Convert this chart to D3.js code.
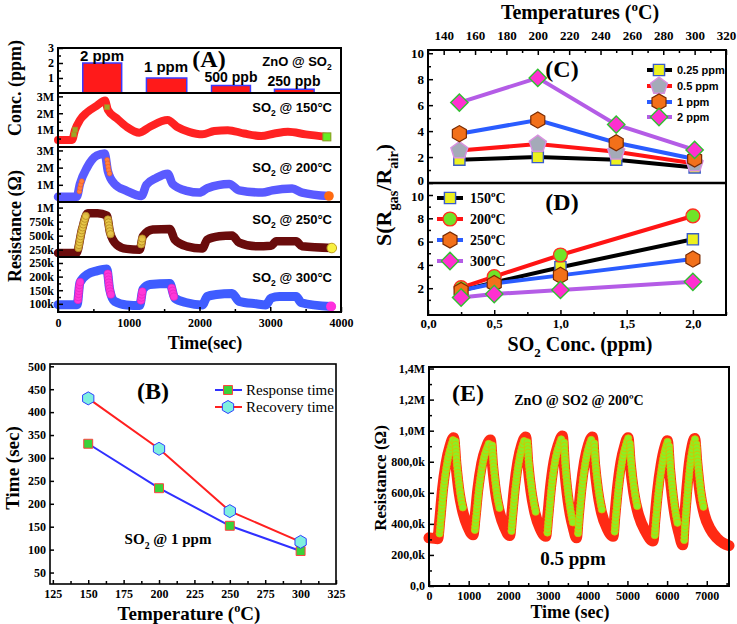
<!DOCTYPE html>
<html><head><meta charset="utf-8">
<script src="https://cdn.jsdelivr.net/npm/d3@7"></script>
<style>body{margin:0;background:#fff}svg{display:block}</style>
</head><body>
<svg id="c" width="737" height="624"></svg>
<script>
// ===================== DATA =====================
// Panel A : concentration pulses
const concLabels = ["2 ppm", "1 ppm", "500 ppb", "250 ppb"];
const concStart = [350, 1250, 2170, 3060];
const concEnd = [900, 1820, 2720, 3620];
const concValue = [2, 1, 0.5, 0.25];
// Panel A : resistance transients  [time (s), value]
const r150 = [[0,0.42],[200,0.42],[240,1.0],[310,1.6],[410,2.05],[550,2.45],[665,2.75],[705,2.2],[830,1.7],[970,1.2],[1150,0.85],[1300,1.2],[1550,1.6],[1680,1.2],[1850,0.9],[2040,0.75],[2210,0.95],[2400,1.0],[2630,0.8],[2870,0.65],[3060,0.8],[3250,0.9],[3500,0.75],[3800,0.6]]; // MOhm
const r200 = [[0,0.3],[265,0.3],[310,1.05],[410,2.0],[550,2.7],[660,2.82],[705,1.8],[800,1.05],[970,0.65],[1180,0.35],[1250,1.0],[1390,1.4],[1550,1.65],[1620,1.05],[1820,0.65],[2000,0.55],[2110,0.8],[2420,1.05],[2560,0.68],[2890,0.55],[3030,0.68],[3310,0.78],[3450,0.55],[3830,0.35]]; // MOhm
const r250 = [[0,190],[260,190],[340,615],[420,900],[560,900],[690,860],[735,560],[830,340],[970,265],[1155,250],[1200,490],[1340,610],[1580,620],[1650,430],[1820,310],[2040,270],[2110,430],[2280,490],[2460,505],[2560,375],[2800,310],[3010,320],[3085,400],[3365,400],[3450,310],[3870,280]]; // kOhm
const r300 = [[0,97],[270,97],[310,178],[420,209],[550,221],[690,228],[730,153],[800,109],[970,96],[1155,94],[1200,153],[1300,171],[1580,175],[1650,121],[1820,104],[2040,96],[2110,127],[2240,134],[2460,138],[2560,109],[2800,100],[2940,96],[3010,121],[3130,127],[3365,127],[3440,104],[3860,90]]; // kOhm
const aTimeTicks = [0, 1000, 2000, 3000, 4000];

// Panel C : response vs temperature
const cTemps = [150, 200, 250, 300];
const cTempTicks = [140,160,180,200,220,240,260,280,300,320];
const cNames = ["0.25 ppm", "0.5 ppm", "1 ppm", "2 ppm"];
const s025 = [1.8, 2.0, 1.8, 1.2];
const s05 = [2.5, 3.0, 2.4, 1.5];
const s1 = [3.8, 4.85, 3.1, 1.85];
const s2 = [6.2, 8.1, 4.5, 2.55];

// Panel D : response vs concentration
const dConc = [0.25, 0.5, 1, 2];
const dConcTicks = [0, 0.5, 1, 1.5, 2];
const dConcLabels = ["0,0", "0,5", "1,0", "1,5", "2,0"];
const dNames = ["150", "200", "250", "300"];
const d150 = [1.8, 2.5, 3.8, 6.2];
const d200 = [2.05, 3.0, 4.85, 8.2];
const d250 = [1.8, 2.4, 3.1, 4.5];
const d300 = [1.2, 1.5, 1.85, 2.55];

// Panel B : response / recovery times
const bTemps = [150, 200, 250, 300];
const respTime = [331, 234, 152, 97];
const recTime = [430, 320, 184, 117];
const bNames = ["Response time", "Recovery time"];

// Panel E : cyclic response at 200 C, 0.5 ppm  [time (s), kOhm]
const eCurve = [[0,310],[220,305],[270,420],[340,620],[430,790],[530,900],[620,955],
 [680,780],[760,600],[860,470],[980,380],[1110,330],
 [1160,440],[1230,620],[1330,790],[1440,890],[1547,940],
 [1600,780],[1680,600],[1780,470],[1900,380],[2034,325],
 [2080,440],[2150,630],[2240,800],[2340,910],[2437,960],
 [2490,790],[2570,610],[2670,470],[2800,370],[2941,320],
 [2990,440],[3060,630],[3150,800],[3260,910],[3362,965],
 [3410,780],[3480,600],[3560,460],[3640,370],[3715,310],
 [3760,440],[3830,630],[3920,800],[4020,910],[4118,960],
 [4170,790],[4250,610],[4350,470],[4490,370],[4637,320],
 [4680,440],[4750,630],[4840,800],[4930,900],[5015,955],
 [5070,790],[5160,600],[5290,450],[5460,350],[5645,290],
 [5690,420],[5760,610],[5850,780],[5940,890],[6008,935],
 [6060,760],[6130,580],[6210,440],[6300,340],[6393,265],
 [6430,400],[6490,600],[6560,790],[6630,900],[6695,950],
 [6750,790],[6830,600],[6940,460],[7080,370],[7250,310],[7420,275],[7560,260]];
const eTimeTicks = [0,1000,2000,3000,4000,5000,6000,7000];
const eResTicks = [0,200,400,600,800,1000,1200,1400];
const eResLabels = ["0,0","200,0k","400,0k","600,0k","800,0k","1,0M","1,2M","1,4M"];

// ===================== HELPERS =====================
const SERIF = "'Liberation Serif','Times New Roman',serif";
const SANS = "'Liberation Sans',Arial,sans-serif";
const svg = d3.select("#c");

function rich(parent, x, y, parts, o) {
  const t = parent.append("text").attr("x", x).attr("y", y)
    .attr("font-family", o.ff || SERIF).attr("font-size", o.fs)
    .attr("font-weight", o.fw || "bold").attr("text-anchor", o.anchor || "start")
    .attr("fill", o.fill || "#000");
  if (o.rot) t.attr("transform", `rotate(${o.rot},${x},${y})`);
  let shift = 0;
  parts.forEach(p => {
    const s = typeof p === "string" ? {t: p} : p;
    const target = s.sub ? o.fs * 0.32 : s.sup ? -o.fs * 0.42 : 0;
    const ts = t.append("tspan").text(s.t).attr("dy", target - shift);
    if (s.sub || s.sup) ts.attr("font-size", o.fs * 0.65);
    shift = target;
  });
  return t;
}
function frame(x0, y0, x1, y1, sw) {
  svg.append("rect").attr("x", x0).attr("y", y0).attr("width", x1 - x0).attr("height", y1 - y0)
    .attr("fill", "none").attr("stroke", "#000").attr("stroke-width", sw || 2);
}
function hline(x0, x1, y, sw) {
  svg.append("line").attr("x1", x0).attr("x2", x1).attr("y1", y).attr("y2", y)
    .attr("stroke", "#000").attr("stroke-width", sw || 2);
}
function styleAxis(g, fs, ff) {
  g.select(".domain").remove();
  g.selectAll("line").attr("stroke", "#000").attr("stroke-width", 1.5);
  g.selectAll("text").attr("font-family", ff || SERIF).attr("font-weight", "bold")
    .attr("font-size", fs).attr("fill", "#000");
}
function axis(kind, scale, pos, major, labels, minor, opt) {
  opt = opt || {};
  const mk = {left: d3.axisLeft, bottom: d3.axisBottom, top: d3.axisTop}[kind];
  const tr = kind === "left" ? `translate(${pos},0)` : `translate(0,${pos})`;
  if (minor) {
    const gm = svg.append("g").attr("transform", tr)
      .call(mk(scale).tickValues(minor).tickFormat("").tickSize(-(opt.minSize || 3)));
    styleAxis(gm, 10);
  }
  const g = svg.append("g").attr("transform", tr)
    .call(mk(scale).tickValues(major).tickFormat((d, i) => labels ? labels[i] : d)
      .tickSize(-(opt.size || 5)).tickPadding(opt.pad || 4));
  styleAxis(g, opt.fs || 12, opt.ff);
  return g;
}
const hexagon = {draw(ctx, size) { const r = Math.sqrt(size / 2.598);
  for (let i = 0; i < 6; i++) { const a = Math.PI / 3 * i + Math.PI / 6;
    i ? ctx.lineTo(r * Math.cos(a), r * Math.sin(a)) : ctx.moveTo(r * Math.cos(a), r * Math.sin(a)); }
  ctx.closePath(); }};
const pentagon = {draw(ctx, size) { const r = Math.sqrt(size / 2.378);
  for (let i = 0; i < 5; i++) { const a = -Math.PI / 2 + 2 * Math.PI / 5 * i;
    i ? ctx.lineTo(r * Math.cos(a), r * Math.sin(a)) : ctx.moveTo(r * Math.cos(a), r * Math.sin(a)); }
  ctx.closePath(); }};
const diamond = {draw(ctx, size) { const r = Math.sqrt(size / 2);
  ctx.moveTo(0, -r); ctx.lineTo(r, 0); ctx.lineTo(0, r); ctx.lineTo(-r, 0); ctx.closePath(); }};

function marker(g, x, y, st) {
  g.append("path").attr("d", d3.symbol().type(st.type).size(st.size)())
    .attr("transform", `translate(${x},${y})`)
    .attr("fill", st.fill).attr("stroke", st.stroke).attr("stroke-width", st.sw || 1.2);
}
// thick band along a curve; accent markers where the curve is steep
function band(g, data, x, y, color, width, accent) {
  const line = d3.line().x(d => x(d[0])).y(d => y(d[1])).curve(d3.curveMonotoneX);
  const p = g.append("path").attr("d", line(data)).attr("fill", "none").attr("stroke", color)
    .attr("stroke-width", width).attr("stroke-linejoin", "round").attr("stroke-linecap", "round");
  if (accent) {
    const node = p.node(), L = node.getTotalLength();
    let prev = node.getPointAtLength(0);
    for (let l = accent.step; l <= L; l += accent.step) {
      const q = node.getPointAtLength(l);
      const dx = Math.abs(q.x - prev.x) + 1e-6, dy = q.y - prev.y;
      const thr = dy < 0 ? accent.up : accent.down;
      if (Math.abs(dy) > thr * dx) accent.draw(g, q.x, q.y);
      prev = q;
    }
  }
  return p;
}

// ===================== PANEL A =====================
const xA = d3.scaleLinear().domain([0, 4000]).range([58, 341]);
const yConc = d3.scaleLinear().domain([0, 3]).range([93, 48]);
const y150 = d3.scaleLinear().domain([0, 3.2]).range([147, 93]);
const y200 = d3.scaleLinear().domain([0, 3.2]).range([202, 147]);
const y250 = d3.scaleLinear().domain([120, 1100]).range([257, 202]);
const y300 = d3.scaleLinear().domain([70, 272]).range([312, 257]);
const gA = svg.append("g");

concValue.forEach((v, i) => {
  gA.append("rect").attr("x", xA(concStart[i])).attr("width", xA(concEnd[i]) - xA(concStart[i]))
    .attr("y", yConc(v)).attr("height", yConc(0) - yConc(v))
    .attr("fill", "#ff1a1a").attr("stroke", "#3a3aff").attr("stroke-width", 1.5);
});

band(gA, r150, xA, y150, "#ff2222", 8, {step: 5, up: 3, down: 3,
  draw: (g, x, y) => g.append("rect").attr("x", x - 2.5).attr("y", y - 2.5).attr("width", 5).attr("height", 5)
    .attr("fill", "#9aa828").attr("stroke", "#c08020").attr("stroke-width", 0.6)});
band(gA, r200, xA, y200, "#5a5aff", 8.5, {step: 3.5, up: 3, down: 3,
  draw: (g, x, y) => g.append("circle").attr("cx", x + 1).attr("cy", y).attr("r", 2.4)
    .attr("fill", "#ff8040").attr("stroke", "#ff6010").attr("stroke-width", 0.6)});
band(gA, r250, xA, y250, "#6a0c0c", 8.5, {step: 3, up: 3, down: 3,
  draw: (g, x, y) => g.append("circle").attr("cx", x).attr("cy", y).attr("r", 3.6)
    .attr("fill", "#e8c848").attr("fill-opacity", 0.9).attr("stroke", "#b88a20").attr("stroke-width", 0.8)});
band(gA, r300, xA, y300, "#3f5cff", 9, {step: 3, up: 3, down: 3,
  draw: (g, x, y) => g.append("circle").attr("cx", x).attr("cy", y).attr("r", 3.8)
    .attr("fill", "#ff38d8").attr("stroke", "#e020c0").attr("stroke-width", 0.6)});
// end markers
{ const e = r150[r150.length - 1];
  gA.append("rect").attr("x", xA(e[0]) - 4).attr("y", y150(e[1]) - 4).attr("width", 8).attr("height", 8)
    .attr("fill", "#66ee22").attr("stroke", "#8a9a20"); }
{ const e = r200[r200.length - 1];
  gA.append("circle").attr("cx", xA(e[0])).attr("cy", y200(e[1])).attr("r", 4.8).attr("fill", "#ff6a10"); }
{ const e = r250[r250.length - 1];
  gA.append("circle").attr("cx", xA(e[0])).attr("cy", y250(e[1])).attr("r", 4.8).attr("fill", "#f8f040").attr("stroke", "#c0a020"); }
{ const e = r300[r300.length - 1];
  gA.append("circle").attr("cx", xA(e[0])).attr("cy", y300(e[1])).attr("r", 5).attr("fill", "#ff30dd"); }

frame(58, 48, 341, 312, 2);
[93, 147, 202, 257].forEach(y => hline(58, 341, y, 2));
axis("left", yConc, 58, [1, 2, 3], ["1", "2", "3"], [0.5, 1.5, 2.5], {fs: 12});
axis("left", y150, 58, [1, 2, 3], ["1M", "2M", "3M"], [0.5, 1.5, 2.5], {fs: 12});
axis("left", y200, 58, [1, 2, 3], ["1M", "2M", "3M"], [0.5, 1.5, 2.5], {fs: 12});
axis("left", y250, 58, [250, 500, 750, 1000], ["250k", "500k", "750k", "1M"], [375, 625, 875], {fs: 12});
axis("left", y300, 58, [100, 150, 200, 250], ["100k", "150k", "200k", "250k"], [125, 175, 225], {fs: 12});
axis("bottom", xA, 312, aTimeTicks, null, [500, 1500, 2500, 3500], {fs: 12, pad: 6});

const aLab = [[102, 61, 15], [166, 72, 15], [231, 82, 14], [294, 86, 14]];
concLabels.forEach((s, i) => rich(svg, aLab[i][0], aLab[i][1], [s], {ff: SANS, fs: aLab[i][2], anchor: "middle"}));
rich(svg, 209, 67, ["(A)"], {fs: 24, anchor: "middle"});
rich(svg, 297, 66, ["ZnO @ SO", {t: "2", sub: true}], {ff: SANS, fs: 13, anchor: "middle"});
[["150", 112], ["200", 172], ["250", 224], ["300", 282]].forEach(d =>
  rich(svg, 332, d[1], ["SO", {t: "2", sub: true}, " @ " + d[0] + "°C"], {ff: SANS, fs: 13, anchor: "end"}));
rich(svg, 21, 88, ["Conc. (ppm)"], {fs: 18, anchor: "middle", rot: -90});
rich(svg, 21, 226, ["Resistance (Ω)"], {fs: 18, anchor: "middle", rot: -90});
rich(svg, 205, 349, ["Time(sec)"], {fs: 18, anchor: "middle"});

// ===================== PANELS C / D =====================
const xC = d3.scaleLinear().domain([130, 320]).range([428, 726]);
const yC = d3.scaleLinear().domain([0, 10.25]).range([183, 50]);
const xD = d3.scaleLinear().domain([0, 2.25]).range([428, 726]);
const yD = d3.scaleLinear().domain([-0.3, 11.03]).range([315, 183]);
const lineColors = ["#000000", "#ff1414", "#2a5cff", "#b45ce6"];
const sqSt = {type: d3.symbolSquare, size: 125, fill: "#ecf020", stroke: "#3a5cc8", sw: 1.4};
const pentSt = {type: pentagon, size: 190, fill: "#a4aab8", stroke: "#d890e0", sw: 1.4};
const hexSt = {type: hexagon, size: 170, fill: "#f2701a", stroke: "#7a2a00", sw: 1.2};
const diaSt = {type: diamond, size: 150, fill: "#ff30d0", stroke: "#30c030", sw: 1.4};
const cirSt = {type: d3.symbolCircle, size: 150, fill: "#70e428", stroke: "#ff3020", sw: 1.4};
const cSeries = [s025, s05, s1, s2];
const cStyles = [sqSt, pentSt, hexSt, diaSt];
const gC = svg.append("g");
cSeries.forEach((s, i) => {
  gC.append("path").attr("d", d3.line().x((d, j) => xC(cTemps[j])).y(d => yC(d))(s))
    .attr("fill", "none").attr("stroke", lineColors[i]).attr("stroke-width", 4);
});
cSeries.forEach((s, i) => s.forEach((v, j) => marker(gC, xC(cTemps[j]), yC(v), cStyles[i])));

const dSeries = [d150, d200, d250, d300];
const dStyles = [sqSt, cirSt, hexSt, diaSt];
const gD = svg.append("g");
dSeries.forEach((s, i) => {
  gD.append("path").attr("d", d3.line().x((d, j) => xD(dConc[j])).y(d => yD(d))(s))
    .attr("fill", "none").attr("stroke", lineColors[i]).attr("stroke-width", 4);
});
dSeries.forEach((s, i) => s.forEach((v, j) => marker(gD, xD(dConc[j]), yD(v), dStyles[i])));

frame(428, 50, 726, 315, 2);
hline(428, 726, 183, 2.5);
axis("top", xC, 50, cTempTicks, null, d3.range(130, 321, 10).filter(v => v % 20 !== 0), {fs: 13, pad: 10});
const axC = axis("left", yC, 428, [0, 2, 4, 6, 8, 10], null, [1, 3, 5, 7, 9], {fs: 13});
axC.selectAll("text").filter(d => d === 0).attr("dy", "0.1em");
const axD = axis("left", yD, 428, [2, 4, 6, 8, 10], null, [1, 3, 5, 7, 9], {fs: 13});
axD.selectAll("text").filter(d => d === 10).attr("dy", "0.45em");
axis("bottom", xD, 315, dConcTicks, dConcLabels, [0.25, 0.75, 1.25, 1.75, 2.25], {fs: 13, pad: 4});

// legends
const legC = [70, 86, 102, 117];
cNames.forEach((n, i) => {
  svg.append("line").attr("x1", 647).attr("x2", 672).attr("y1", legC[i]).attr("y2", legC[i])
    .attr("stroke", lineColors[i]).attr("stroke-width", 4);
  marker(svg, 659, legC[i], cStyles[i]);
  rich(svg, 677, legC[i] + 4, [n], {ff: SANS, fs: 11});
});
const legD = [198, 219, 240, 261];
dNames.forEach((n, i) => {
  svg.append("line").attr("x1", 437).attr("x2", 463).attr("y1", legD[i]).attr("y2", legD[i])
    .attr("stroke", lineColors[i]).attr("stroke-width", 4);
  marker(svg, 450, legD[i], dStyles[i]);
  rich(svg, 470, legD[i] + 5, [n, {t: "o", sup: true}, "C"], {fs: 14});
});
rich(svg, 562, 77, ["(C)"], {fs: 24, anchor: "middle"});
rich(svg, 562, 210, ["(D)"], {fs: 24, anchor: "middle"});
rich(svg, 580, 19, ["Temperatures (", {t: "o", sup: true}, "C)"], {fs: 20, anchor: "middle"});
rich(svg, 580, 351, ["SO", {t: "2", sub: true}, " Conc. (ppm)"], {fs: 20, anchor: "middle"});
rich(svg, 391, 195, ["S(R", {t: "gas", sub: true}, "/R", {t: "air", sub: true}, ")"], {fs: 22, anchor: "middle", rot: -90});

// ===================== PANEL B =====================
const xB = d3.scaleLinear().domain([123, 325]).range([50, 336]);
const yB = d3.scaleLinear().domain([25, 505]).range([584, 364]);
const gB = svg.append("g");
const bLine = d3.line().x((d, i) => xB(bTemps[i])).y(d => yB(d));
gB.append("path").attr("d", bLine(respTime)).attr("fill", "none").attr("stroke", "#3030ff").attr("stroke-width", 2);
gB.append("path").attr("d", bLine(recTime)).attr("fill", "none").attr("stroke", "#ff2020").attr("stroke-width", 2);
const bSq = {type: d3.symbolSquare, size: 80, fill: "#3ad23a", stroke: "#ff4040", sw: 1};
const bHex = {type: hexagon, size: 110, fill: "#7ff0e0", stroke: "#3040ff", sw: 1};
respTime.forEach((v, i) => marker(gB, xB(bTemps[i]), yB(v), bSq));
recTime.forEach((v, i) => marker(gB, xB(bTemps[i]), yB(v), bHex));
frame(50, 364, 336, 584, 1.6);
axis("left", yB, 50, d3.range(50, 501, 50), null, null, {fs: 12, size: 4});
axis("bottom", xB, 584, d3.range(125, 326, 25), null, d3.range(137.5, 325, 25), {fs: 12, size: 4, pad: 5});
[[390, "#3030ff", bSq], [407, "#ff2020", bHex]].forEach((d, i) => {
  svg.append("line").attr("x1", 215).attr("x2", 242).attr("y1", d[0]).attr("y2", d[0]).attr("stroke", d[1]).attr("stroke-width", 2);
  marker(svg, 228, d[0], d[2]);
  rich(svg, 246, d[0] + 5, [bNames[i]], {fs: 15, fw: "normal"});
});
rich(svg, 153, 399, ["(B)"], {fs: 24, anchor: "middle"});
rich(svg, 168, 544, ["SO", {t: "2", sub: true}, " @ 1 ppm"], {fs: 15, anchor: "middle"});
rich(svg, 19, 468, ["Time (sec)"], {fs: 19, anchor: "middle", rot: -90});
rich(svg, 189, 620, ["Temperature (", {t: "o", sup: true}, "C)"], {fs: 19, anchor: "middle"});

// ===================== PANEL E =====================
const xE = d3.scaleLinear().domain([0, 7560]).range([429, 729]);
const yE = d3.scaleLinear().domain([0, 1410]).range([586, 367]);
const gE = svg.append("g");
band(gE, eCurve, xE, yE, "#ff2a14", 11, {step: 3.5, up: 2.2, down: 4.5,
  draw: (g, x, y) => g.append("circle").attr("cx", x + 1).attr("cy", y).attr("r", 3.6)
    .attr("fill", "#8cf024").attr("stroke", "#d8c000").attr("stroke-width", 0.8)});
frame(429, 367, 729, 586, 2);
axis("left", yE, 429, eResTicks, eResLabels, d3.range(100, 1400, 200), {fs: 12});
axis("bottom", xE, 586, eTimeTicks, null, d3.range(500, 7560, 1000), {fs: 12, pad: 5});
rich(svg, 468, 401, ["(E)"], {fs: 24, anchor: "middle"});
rich(svg, 579, 405, ["ZnO @ SO2 @ 200ºC"], {fs: 14, anchor: "middle"});
rich(svg, 573, 565, ["0.5 ppm"], {fs: 19, anchor: "middle"});
rich(svg, 386, 478, ["Resistance (Ω)"], {fs: 17, anchor: "middle", rot: -90});
rich(svg, 570, 618, ["Time (sec)"], {fs: 18, anchor: "middle"});
</script>
</body></html>
